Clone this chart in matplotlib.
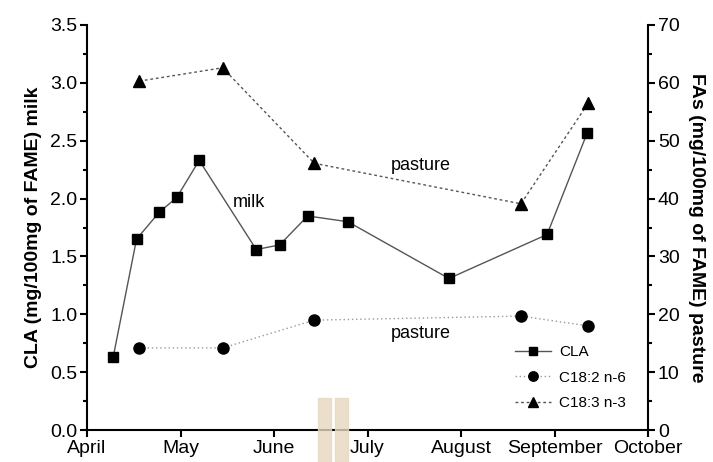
import matplotlib.pyplot as plt
from matplotlib.patches import Rectangle
from matplotlib.ticker import MultipleLocator

plt.rcParams['font.family'] = ['Liberation Sans', 'DejaVu Sans']

# meses del eje x (espaciados igual)
months = ["April", "May", "June", "July", "August", "September", "October"]

# CLA en leche (eje izquierdo), fechas en fracción de mes desde abril
cla_x = [0.28, 0.53, 0.77, 0.96, 1.20, 1.81, 2.06, 2.36, 2.79, 3.87, 4.92, 5.35]
cla_y = [0.63, 1.65, 1.88, 2.01, 2.33, 1.56, 1.60, 1.85, 1.80, 1.31, 1.69, 2.57]

# ácidos grasos en pasto (eje derecho)
past_x = [0.56, 1.45, 2.43, 4.64, 5.36]
c182 = [14.2, 14.2, 19.0, 19.7, 18.0]
c183 = [60.3, 62.6, 46.1, 39.1, 56.5]

fig = plt.figure(figsize=(7.13, 4.62), dpi=100)
ax = fig.add_axes([0.122, 0.069, 0.787, 0.877])
ax2 = ax.twinx()

l1, = ax.plot(cla_x, cla_y, color="#555555", lw=1, marker="s", ms=7,
              mfc="black", mec="black", label="CLA")
l2, = ax2.plot(past_x, c182, color="#999999", lw=1, ls=(0, (1, 2)), marker="o",
               ms=8, mfc="black", mec="black", label="C18:2 n-6")
l3, = ax2.plot(past_x, c183, color="#555555", lw=1, ls=(0, (2, 2)), marker="^",
               ms=8, mfc="black", mec="black", label="C18:3 n-3")

ax.set_xlim(0, 6)
ax.set_ylim(0, 3.5)
ax2.set_ylim(0, 70)
ax.set_xticks(range(len(months)))
ax.set_xticklabels(months)
ax.yaxis.set_major_locator(MultipleLocator(0.5))
ax.yaxis.set_minor_locator(MultipleLocator(0.25))
ax2.yaxis.set_major_locator(MultipleLocator(10))
ax2.yaxis.set_minor_locator(MultipleLocator(5))

for a in (ax, ax2):
    a.spines["top"].set_visible(False)
    for s in a.spines.values():
        s.set_linewidth(1.5)
    a.tick_params(which="major", length=5, width=1.5, labelsize=14, pad=2)
    a.tick_params(which="minor", length=3, width=1.5)
ax.spines["right"].set_visible(False)
ax2.spines["left"].set_visible(False)
ax2.spines["bottom"].set_visible(False)

ax.set_ylabel("CLA (mg/100mg of FAME) milk", fontsize=14, fontweight="bold", labelpad=6)
ax2.set_ylabel("FAs (mg/100mg of FAME) pasture", fontsize=14, fontweight="bold",
               rotation=-90, labelpad=18)

ax.text(1.56, 1.93, "milk", fontsize=13)
ax.text(3.25, 2.25, "pasture", fontsize=13)
ax.text(3.25, 0.8, "pasture", fontsize=13)

ax2.legend(handles=[l1, l2, l3], loc="lower right", bbox_to_anchor=(0.985, 0.015),
           frameon=False, fontsize=11, handlelength=2.4, labelspacing=0.75,
           handletextpad=0.5, markerscale=0.85)

# marca de agua en tono arena
for x0 in (318, 335):
    fig.patches.append(Rectangle((x0 / 713, 0), 13 / 713, 64 / 462,
                                 transform=fig.transFigure, color="#e6d8c0",
                                 alpha=0.8, zorder=5))

fig.savefig("out.png", dpi=100)
